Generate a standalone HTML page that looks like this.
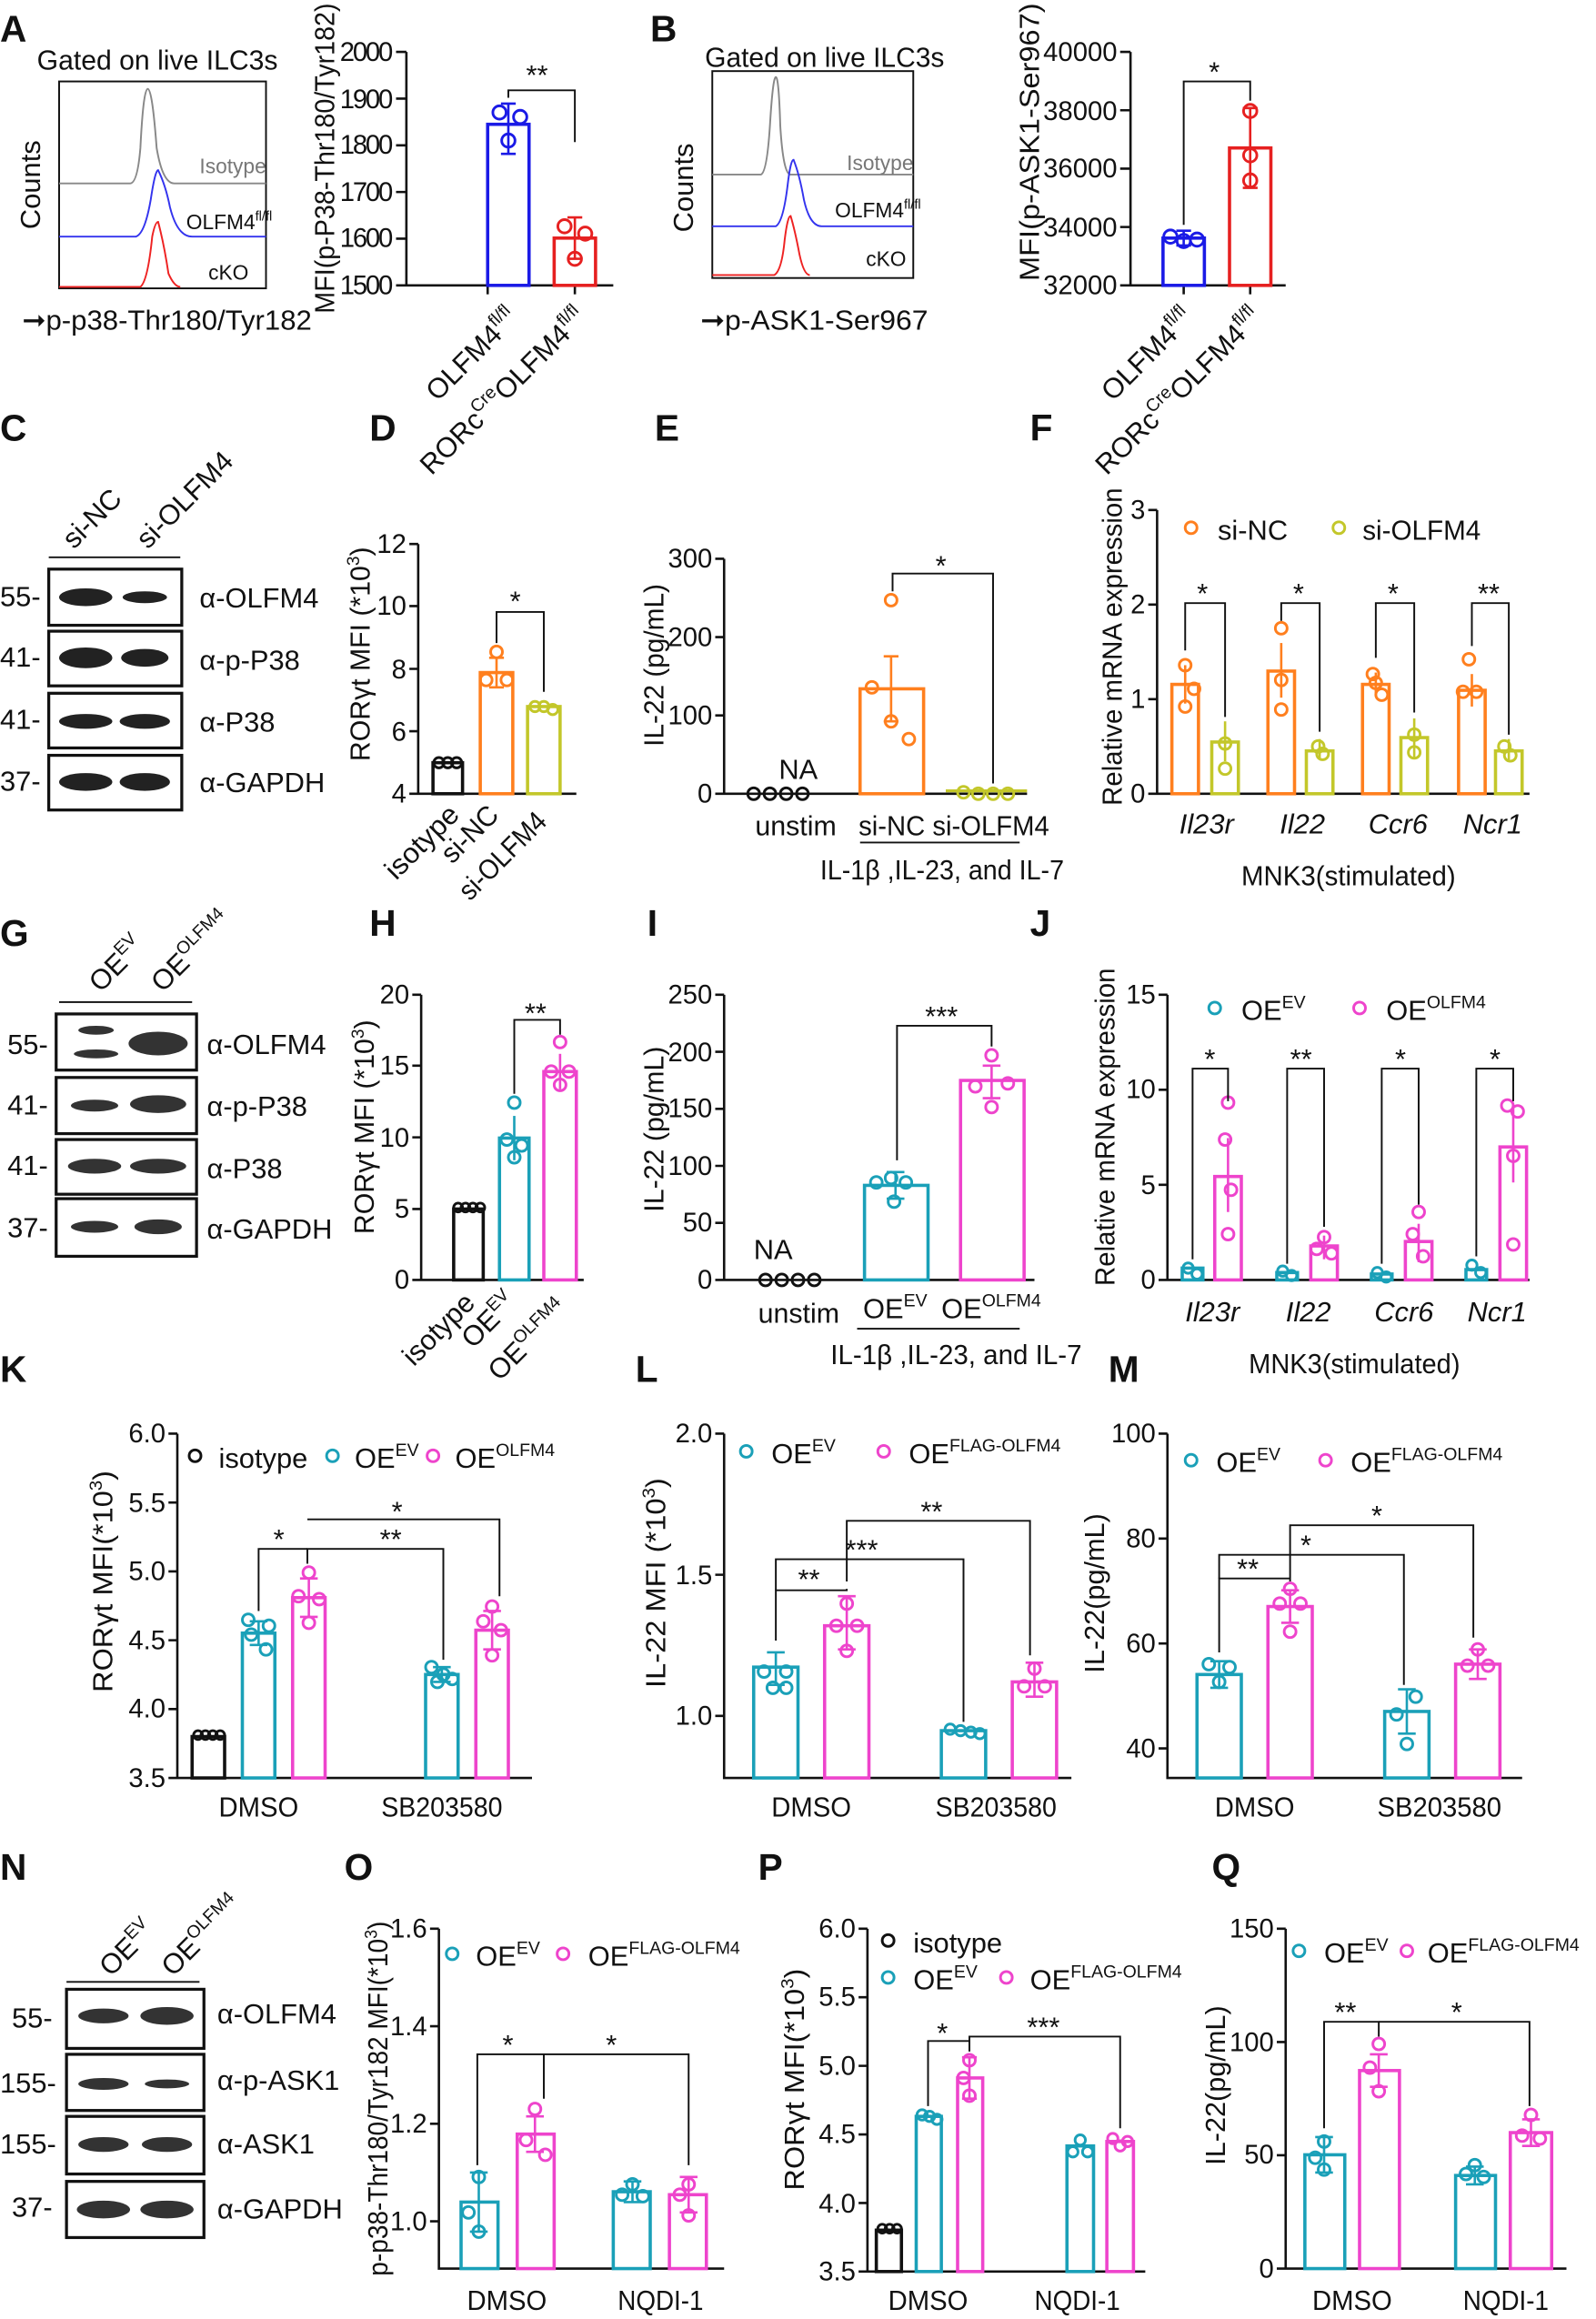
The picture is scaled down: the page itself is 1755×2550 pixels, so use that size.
<!DOCTYPE html>
<html><head><meta charset="utf-8"><style>
html,body{margin:0;padding:0;background:#fff}
svg{display:block}
text{font-family:"Liberation Sans Narrow","Liberation Sans",sans-serif;fill:#111}
.t{font-size:19px}.s{font-size:14px}.L{font-size:25px;font-weight:bold;font-family:"Liberation Sans",sans-serif}
.tk{font-size:18px;text-anchor:end}
.ax{stroke:#111;stroke-width:1.6;fill:none}
.b{fill:none;stroke-width:2.2}
.d{fill:none;stroke-width:1.8}
.k{stroke:#111;stroke-width:1.2;fill:none}
</style></head><body>
<svg width="1755" height="2550" viewBox="0 0 1080 1569" xmlns="http://www.w3.org/2000/svg">
<!-- ===== Panel A ===== -->
<text class="L" x="0" y="28">A</text>
<text class="t" x="25" y="47" textLength="163" lengthAdjust="spacingAndGlyphs">Gated on live ILC3s</text>
<rect x="40" y="55" width="140" height="140" class="k" stroke="#888"/>
<text class="t" transform="translate(27,155) rotate(-90)">Counts</text>
<path d="M40,124 L88,124 Q93,124 95,100 Q97,60 100,60 Q103,60 106,100 Q110,124 118,124 L180,124" stroke="#888" fill="none" stroke-width="1.2"/>
<path d="M40,160 L92,160 Q98,158 102,135 Q105,115 107,115 Q112,125 115,140 Q120,160 130,160 L180,160" stroke="#3333ee" fill="none" stroke-width="1.2"/>
<path d="M40,194 L95,194 Q100,190 103,160 Q105,150 107,150 Q111,165 114,185 Q118,194 122,194" stroke="#ee2222" fill="none" stroke-width="1.2"/>
<text class="s" x="135" y="117" style="fill:#777">Isotype</text>
<text class="s" x="126" y="155">OLFM4<tspan font-size="9" dy="-6">fl/fl</tspan></text>
<text class="s" x="141" y="189">cKO</text>
<text class="t" x="15" y="223" textLength="196" lengthAdjust="spacingAndGlyphs">➞p-p38-Thr180/Tyr182</text>

<path class="ax" d="M275,35 V193 H415 M268,35H275 M268,66.6H275 M268,98.2H275 M268,129.8H275 M268,161.4H275 M268,193H275 M330,193v6 M389,193v6"/>
<g lengthAdjust="spacingAndGlyphs">
<text class="tk" x="266" y="41" textLength="36">2000</text><text class="tk" x="266" y="73" textLength="36">1900</text><text class="tk" x="266" y="104" textLength="36">1800</text><text class="tk" x="266" y="136" textLength="36">1700</text><text class="tk" x="266" y="167" textLength="36">1600</text><text class="tk" x="266" y="199" textLength="36">1500</text></g>
<text class="t" transform="translate(226,212) rotate(-90)" textLength="210" lengthAdjust="spacingAndGlyphs">MFI(p-P38-Thr180/Tyr182)</text>
<rect x="330" y="84" width="28" height="109" class="b" stroke="#1a1ae6"/>
<path d="M344,70V104M339,70h10M339,104h10" stroke="#1a1ae6" stroke-width="1.6"/>
<circle cx="338" cy="76" r="4.5" class="d" stroke="#1a1ae6"/><circle cx="352" cy="79" r="4.5" class="d" stroke="#1a1ae6"/><circle cx="344" cy="95" r="4.5" class="d" stroke="#1a1ae6"/>
<rect x="375" y="161" width="28" height="32" class="b" stroke="#e62020"/>
<path d="M389,147V175M384,147h10M384,175h10" stroke="#e62020" stroke-width="1.6"/>
<circle cx="382" cy="153" r="4.5" class="d" stroke="#e62020"/><circle cx="396" cy="158" r="4.5" class="d" stroke="#e62020"/><circle cx="389" cy="175" r="4.5" class="d" stroke="#e62020"/>
<path class="k" d="M344,66V61H389V96"/><text class="t" x="356" y="57">**</text>
<text class="t" transform="translate(296,272) rotate(-45)">OLFM4<tspan font-size="12" dy="-8">fl/fl</tspan></text>
<text class="t" transform="translate(292,322) rotate(-45)">RORc<tspan font-size="12" dy="-8">Cre</tspan><tspan dy="8">OLFM4</tspan><tspan font-size="12" dy="-8">fl/fl</tspan></text>

<!-- ===== Panel B ===== -->
<text class="L" x="440" y="28">B</text>
<text class="t" x="477" y="45" textLength="162" lengthAdjust="spacingAndGlyphs">Gated on live ILC3s</text>
<rect x="482" y="48" width="136" height="140" class="k" stroke="#888"/>
<text class="t" transform="translate(469,157) rotate(-90)">Counts</text>
<path d="M482,118 L515,118 Q519,116 521,85 Q523,52 525,52 Q527,52 528,85 Q530,118 535,118 L618,118" stroke="#888" fill="none" stroke-width="1.2"/>
<path d="M482,153 L525,153 Q530,150 533,125 Q535,108 537,108 Q541,118 544,135 Q548,153 556,153 L618,153" stroke="#3333ee" fill="none" stroke-width="1.2"/>
<path d="M482,186 L524,186 Q529,183 531,162 Q533,146 535,146 Q538,156 541,172 Q544,186 548,186" stroke="#ee2222" fill="none" stroke-width="1.2"/>
<text class="s" x="573" y="115" style="fill:#777">Isotype</text>
<text class="s" x="565" y="147">OLFM4<tspan font-size="9" dy="-6">fl/fl</tspan></text>
<text class="s" x="586" y="180">cKO</text>
<text class="t" x="474" y="223" textLength="154" lengthAdjust="spacingAndGlyphs">➞p-ASK1-Ser967</text>

<path class="ax" d="M765,35 V193 H870 M758,35H765 M758,74.5H765 M758,114H765 M758,153.5H765 M758,193H765 M801,193v6 M846,193v6"/>
<text class="tk" x="756" y="41">40000</text><text class="tk" x="756" y="81">38000</text><text class="tk" x="756" y="120">36000</text><text class="tk" x="756" y="160">34000</text><text class="tk" x="756" y="199">32000</text>
<text class="t" transform="translate(703,190) rotate(-90)" textLength="188" lengthAdjust="spacingAndGlyphs">MFI(p-ASK1-Ser967)</text>
<rect x="787" y="161" width="28" height="32" class="b" stroke="#1a1ae6"/>
<path d="M801,156V166M796,156h10M796,166h10" stroke="#1a1ae6" stroke-width="1.6"/>
<circle cx="792" cy="160" r="4.5" class="d" stroke="#1a1ae6"/><circle cx="801" cy="163" r="4.5" class="d" stroke="#1a1ae6"/><circle cx="810" cy="162" r="4.5" class="d" stroke="#1a1ae6"/>
<rect x="832" y="100" width="28" height="93" class="b" stroke="#e62020"/>
<path d="M846,73V127M841,73h10M841,127h10" stroke="#e62020" stroke-width="1.6"/>
<circle cx="846" cy="75" r="4.5" class="d" stroke="#e62020"/><circle cx="846" cy="105" r="4.5" class="d" stroke="#e62020"/><circle cx="846" cy="122" r="4.5" class="d" stroke="#e62020"/>
<path class="k" d="M801,152V55H846V68"/><text class="t" x="818" y="55">*</text>
<text class="t" transform="translate(753,272) rotate(-45)">OLFM4<tspan font-size="12" dy="-8">fl/fl</tspan></text>
<text class="t" transform="translate(749,322) rotate(-45)">RORc<tspan font-size="12" dy="-8">Cre</tspan><tspan dy="8">OLFM4</tspan><tspan font-size="12" dy="-8">fl/fl</tspan></text>

<!-- ===== Panel C ===== -->
<text class="L" x="0" y="298">C</text>
<text class="t" transform="translate(50,372) rotate(-45)">si-NC</text>
<text class="t" transform="translate(100,372) rotate(-45)">si-OLFM4</text>
<path class="k" d="M33,377H122" stroke-width="2"/>
<g stroke="#111" stroke-width="2" fill="#fff">
<rect x="33" y="385" width="90" height="38"/><rect x="33" y="427" width="90" height="37"/><rect x="33" y="469" width="90" height="37"/><rect x="33" y="511" width="90" height="37"/></g>
<g fill="#222"><ellipse cx="58" cy="404" rx="18" ry="6"/><ellipse cx="98" cy="404" rx="15" ry="4"/><ellipse cx="58" cy="445" rx="18" ry="7"/><ellipse cx="98" cy="445" rx="16" ry="6"/><ellipse cx="58" cy="488" rx="18" ry="5"/><ellipse cx="98" cy="488" rx="17" ry="5"/><ellipse cx="58" cy="529" rx="18" ry="6"/><ellipse cx="98" cy="529" rx="17" ry="6"/></g>
<text class="t" x="0" y="410">55-</text><text class="t" x="0" y="451">41-</text><text class="t" x="0" y="493">41-</text><text class="t" x="0" y="535">37-</text>
<text class="t" x="135" y="411">α-OLFM4</text><text class="t" x="135" y="453">α-p-P38</text><text class="t" x="135" y="495">α-P38</text><text class="t" x="135" y="536">α-GAPDH</text>

<!-- ===== Panel D ===== -->
<text class="L" x="250" y="298">D</text>
<path class="ax" d="M283,368 V537 H390 M277,368H283 M277,410H283 M277,452.5H283 M277,494.7H283 M277,537H283"/>
<text class="tk" x="275" y="374">12</text><text class="tk" x="275" y="416">10</text><text class="tk" x="275" y="459">8</text><text class="tk" x="275" y="501">6</text><text class="tk" x="275" y="543">4</text>
<text class="t" transform="translate(250,515) rotate(-90)" textLength="145" lengthAdjust="spacingAndGlyphs">RORγt MFI (*10<tspan font-size="12" dy="-7">3</tspan><tspan dy="7">)</tspan></text>
<rect x="293" y="516" width="20" height="21" class="b" stroke="#111"/>
<circle cx="297" cy="516" r="3.5" class="d" stroke="#111"/><circle cx="303" cy="516" r="3.5" class="d" stroke="#111"/><circle cx="309" cy="516" r="3.5" class="d" stroke="#111"/>
<rect x="325" y="455" width="22" height="82" class="b" stroke="#ff7f1e"/>
<path d="M336,445V465M331,445h10M331,465h10" stroke="#ff7f1e" stroke-width="1.6"/>
<circle cx="336" cy="441" r="4" class="d" stroke="#ff7f1e"/><circle cx="329" cy="460" r="4" class="d" stroke="#ff7f1e"/><circle cx="343" cy="460" r="4" class="d" stroke="#ff7f1e"/>
<rect x="357" y="478" width="22" height="59" class="b" stroke="#c3c72a"/>
<circle cx="362" cy="478" r="3.5" class="d" stroke="#c3c72a"/><circle cx="368" cy="478" r="3.5" class="d" stroke="#c3c72a"/><circle cx="374" cy="480" r="3.5" class="d" stroke="#c3c72a"/>
<path class="k" d="M336,435V414H368V468"/><text class="t" x="345" y="413">*</text>
<text class="t" transform="translate(268,596) rotate(-45)" textLength="62" lengthAdjust="spacingAndGlyphs">isotype</text>
<text class="t" transform="translate(306,585) rotate(-45)" textLength="46" lengthAdjust="spacingAndGlyphs">si-NC</text>
<text class="t" transform="translate(318,610) rotate(-45)" textLength="75" lengthAdjust="spacingAndGlyphs">si-OLFM4</text>

<!-- ===== Panel E ===== -->
<text class="L" x="443" y="298">E</text>
<path class="ax" d="M490,378 V537 H695 M484,378H490 M484,431H490 M484,484H490 M484,537H490"/>
<text class="tk" x="482" y="384">300</text><text class="tk" x="482" y="437">200</text><text class="tk" x="482" y="490">100</text><text class="tk" x="482" y="543">0</text>
<text class="t" transform="translate(449,505) rotate(-90)" textLength="110" lengthAdjust="spacingAndGlyphs">IL-22 (pg/mL)</text>
<g class="d" stroke="#111"><circle cx="510" cy="537" r="4"/><circle cx="521" cy="537" r="4"/><circle cx="532" cy="537" r="4"/><circle cx="543" cy="537" r="4"/></g>
<text class="t" x="527" y="527">NA</text>
<rect x="582" y="466" width="43" height="71" class="b" stroke="#ff7f1e"/>
<path d="M603,444V488M598,444h10M598,488h10" stroke="#ff7f1e" stroke-width="1.6"/>
<circle cx="603" cy="406" r="4" class="d" stroke="#ff7f1e"/><circle cx="590" cy="465" r="4" class="d" stroke="#ff7f1e"/><circle cx="603" cy="488" r="4" class="d" stroke="#ff7f1e"/><circle cx="615" cy="500" r="4" class="d" stroke="#ff7f1e"/>
<g class="d" stroke="#c3c72a"><circle cx="652" cy="536" r="4"/><circle cx="662" cy="537" r="4"/><circle cx="672" cy="537" r="4"/><circle cx="682" cy="537" r="4"/></g>
<path d="M640,535H695" stroke="#c3c72a" stroke-width="2"/>
<path class="k" d="M604,400V388H672V530"/><text class="t" x="633" y="389">*</text>
<text class="t" x="511" y="565" textLength="55" lengthAdjust="spacingAndGlyphs">unstim</text><text class="t" x="581" y="565" textLength="129" lengthAdjust="spacingAndGlyphs">si-NC si-OLFM4</text>
<path class="k" d="M582,570H690"/>
<text class="t" x="555" y="595" textLength="165" lengthAdjust="spacingAndGlyphs">IL-1β ,IL-23, and IL-7</text>

<!-- ===== Panel F ===== -->
<text class="L" x="697" y="298">F</text>
<path class="ax" d="M783,345 V537 H1035 M777,345H783 M777,409H783 M777,473H783 M777,537H783"/>
<text class="tk" x="775" y="351">3</text><text class="tk" x="775" y="415">2</text><text class="tk" x="775" y="479">1</text><text class="tk" x="775" y="543">0</text>
<text class="t" transform="translate(759,545) rotate(-90)" textLength="215" lengthAdjust="spacingAndGlyphs">Relative mRNA expression</text>
<circle cx="806" cy="357" r="4" class="d" stroke="#ff7f1e"/><text class="t" x="824" y="365">si-NC</text>
<circle cx="906" cy="357" r="4" class="d" stroke="#c3c72a"/><text class="t" x="922" y="365" textLength="80" lengthAdjust="spacingAndGlyphs">si-OLFM4</text>
<g class="b" stroke="#ff7f1e"><rect x="793" y="463" width="18" height="74"/><rect x="858" y="454" width="18" height="83"/><rect x="922" y="463" width="18" height="74"/><rect x="987" y="467" width="18" height="70"/></g>
<g class="b" stroke="#c3c72a"><rect x="820" y="502" width="18" height="35"/><rect x="884" y="508" width="18" height="29"/><rect x="948" y="499" width="18" height="38"/><rect x="1012" y="508" width="18" height="29"/></g>
<g stroke="#ff7f1e" stroke-width="1.6"><path d="M802,450V476"/><path d="M867,435V472"/><path d="M931,455V471"/><path d="M996,456V478"/></g>
<g stroke="#c3c72a" stroke-width="1.6"><path d="M829,488V515"/><path d="M893,500V514"/><path d="M957,486V513"/><path d="M1021,500V514"/></g>
<g class="d" stroke="#ff7f1e"><circle cx="802" cy="450" r="4"/><circle cx="802" cy="478" r="4"/><circle cx="808" cy="466" r="4"/><circle cx="867" cy="425" r="4"/><circle cx="867" cy="480" r="4"/><circle cx="867" cy="460" r="4"/><circle cx="929" cy="456" r="4"/><circle cx="935" cy="470" r="4"/><circle cx="931" cy="462" r="4"/><circle cx="994" cy="446" r="4"/><circle cx="990" cy="468" r="4"/><circle cx="999" cy="468" r="4"/></g>
<g class="d" stroke="#c3c72a"><circle cx="829" cy="503" r="4"/><circle cx="829" cy="520" r="4"/><circle cx="892" cy="505" r="4"/><circle cx="895" cy="510" r="4"/><circle cx="957" cy="497" r="4"/><circle cx="957" cy="509" r="4"/><circle cx="1018" cy="505" r="4"/><circle cx="1022" cy="511" r="4"/></g>
<g class="k"><path d="M802,440V408H829V485"/><path d="M867,420V408H893V495"/><path d="M931,445V408H957V482"/><path d="M996,437V408H1021V497"/></g>
<text class="t" x="810" y="408">*</text><text class="t" x="875" y="408">*</text><text class="t" x="939" y="408">*</text><text class="t" x="1000" y="408">**</text>
<text class="t" font-style="italic" x="798" y="564">Il23r</text><text class="t" font-style="italic" x="866" y="564">Il22</text><text class="t" font-style="italic" x="926" y="564">Ccr6</text><text class="t" font-style="italic" x="990" y="564">Ncr1</text>
<text class="t" x="840" y="599" textLength="145" lengthAdjust="spacingAndGlyphs">MNK3(stimulated)</text>

<!-- ===== Panel G ===== -->
<text class="L" x="0" y="640">G</text>
<text class="t" transform="translate(68,672) rotate(-45)">OE<tspan font-size="12" dy="-8">EV</tspan></text>
<text class="t" transform="translate(110,672) rotate(-45)">OE<tspan font-size="12" dy="-8">OLFM4</tspan></text>
<path class="k" d="M40,678H130" stroke-width="2"/>
<g stroke="#111" stroke-width="2" fill="#fff">
<rect x="38" y="686" width="95" height="38"/><rect x="38" y="729" width="95" height="38"/><rect x="38" y="771" width="95" height="37"/><rect x="38" y="811" width="95" height="39"/></g>
<g fill="#333"><ellipse cx="65" cy="697" rx="12" ry="3"/><ellipse cx="65" cy="713" rx="15" ry="3"/><ellipse cx="107" cy="706" rx="20" ry="8"/><ellipse cx="64" cy="748" rx="16" ry="4"/><ellipse cx="107" cy="747" rx="19" ry="6"/><ellipse cx="64" cy="789" rx="18" ry="5"/><ellipse cx="107" cy="789" rx="19" ry="5"/><ellipse cx="64" cy="830" rx="16" ry="4"/><ellipse cx="107" cy="830" rx="16" ry="5"/></g>
<text class="t" x="5" y="713">55-</text><text class="t" x="5" y="754">41-</text><text class="t" x="5" y="795">41-</text><text class="t" x="5" y="837">37-</text>
<text class="t" x="140" y="713">α-OLFM4</text><text class="t" x="140" y="755">α-p-P38</text><text class="t" x="140" y="797">α-P38</text><text class="t" x="140" y="838">α-GAPDH</text>

<!-- ===== Panel H ===== -->
<text class="L" x="250" y="633">H</text>
<path class="ax" d="M285,673 V866 H395 M279,673H285 M279,721H285 M279,769.5H285 M279,818H285 M279,866H285"/>
<text class="tk" x="277" y="679">20</text><text class="tk" x="277" y="727">15</text><text class="tk" x="277" y="776">10</text><text class="tk" x="277" y="824">5</text><text class="tk" x="277" y="872">0</text>
<text class="t" transform="translate(253,835) rotate(-90)" textLength="145" lengthAdjust="spacingAndGlyphs">RORγt MFI (*10<tspan font-size="12" dy="-7">3</tspan><tspan dy="7">)</tspan></text>
<rect x="307" y="818" width="20" height="48" class="b" stroke="#111"/>
<g class="d" stroke="#111"><circle cx="310" cy="817" r="3"/><circle cx="315" cy="817" r="3"/><circle cx="320" cy="817" r="3"/><circle cx="325" cy="817" r="3"/></g>
<rect x="338" y="770" width="20" height="96" class="b" stroke="#1aa0b8"/>
<path d="M348,755V785" stroke="#1aa0b8" stroke-width="1.6"/>
<g class="d" stroke="#1aa0b8"><circle cx="348" cy="746" r="4"/><circle cx="343" cy="771" r="4"/><circle cx="353" cy="775" r="4"/><circle cx="348" cy="783" r="4"/></g>
<rect x="368" y="725" width="22" height="141" class="b" stroke="#ee44cc"/>
<path d="M379,713V737" stroke="#ee44cc" stroke-width="1.6"/>
<g class="d" stroke="#ee44cc"><circle cx="379" cy="705" r="4"/><circle cx="373" cy="725" r="4"/><circle cx="385" cy="725" r="4"/><circle cx="379" cy="734" r="4"/></g>
<path class="k" d="M348,740V690H379V700"/><text class="t" x="355" y="692">**</text>
<text class="t" transform="translate(280,925) rotate(-45)" textLength="60" lengthAdjust="spacingAndGlyphs">isotype</text>
<text class="t" transform="translate(320,913) rotate(-45)">OE<tspan font-size="12" dy="-8">EV</tspan></text>
<text class="t" transform="translate(338,935) rotate(-45)">OE<tspan font-size="12" dy="-8">OLFM4</tspan></text>

<!-- ===== Panel I ===== -->
<text class="L" x="438" y="633">I</text>
<path class="ax" d="M490,673 V866 H700 M484,673H490 M484,711.6H490 M484,750.2H490 M484,788.8H490 M484,827.4H490 M484,866H490"/>
<text class="tk" x="482" y="679">250</text><text class="tk" x="482" y="718">200</text><text class="tk" x="482" y="756">150</text><text class="tk" x="482" y="795">100</text><text class="tk" x="482" y="833">50</text><text class="tk" x="482" y="872">0</text>
<text class="t" transform="translate(449,820) rotate(-90)" textLength="112" lengthAdjust="spacingAndGlyphs">IL-22 (pg/mL)</text>
<g class="d" stroke="#111"><circle cx="518" cy="866" r="4"/><circle cx="529" cy="866" r="4"/><circle cx="540" cy="866" r="4"/><circle cx="551" cy="866" r="4"/></g>
<text class="t" x="510" y="852">NA</text>
<rect x="585" y="802" width="43" height="64" class="b" stroke="#1aa0b8"/>
<path d="M606,793V811M600,793h12M600,811h12" stroke="#1aa0b8" stroke-width="1.6"/>
<g class="d" stroke="#1aa0b8"><circle cx="593" cy="800" r="4"/><circle cx="603" cy="797" r="4"/><circle cx="613" cy="800" r="4"/><circle cx="605" cy="813" r="4"/></g>
<rect x="650" y="731" width="43" height="135" class="b" stroke="#ee44cc"/>
<path d="M671,721V743M665,721h12M665,743h12" stroke="#ee44cc" stroke-width="1.6"/>
<g class="d" stroke="#ee44cc"><circle cx="671" cy="714" r="4"/><circle cx="660" cy="735" r="4"/><circle cx="682" cy="733" r="4"/><circle cx="671" cy="749" r="4"/></g>
<path class="k" d="M607,785V694H671V708"/><text class="t" x="626" y="694">***</text>
<text class="t" x="513" y="895" textLength="55" lengthAdjust="spacingAndGlyphs">unstim</text>
<text class="t" x="584" y="892">OE<tspan font-size="12" dy="-8">EV</tspan></text>
<text class="t" x="637" y="892">OE<tspan font-size="12" dy="-8">OLFM4</tspan></text>
<path class="k" d="M580,899H690"/>
<text class="t" x="562" y="923" textLength="170" lengthAdjust="spacingAndGlyphs">IL-1β ,IL-23, and IL-7</text>

<!-- ===== Panel J ===== -->
<text class="L" x="697" y="633">J</text>
<path class="ax" d="M790,673 V866 H1035 M784,673H790 M784,737.3H790 M784,801.6H790 M784,866H790"/>
<text class="tk" x="782" y="679">15</text><text class="tk" x="782" y="743">10</text><text class="tk" x="782" y="808">5</text><text class="tk" x="782" y="872">0</text>
<text class="t" transform="translate(754,870) rotate(-90)" textLength="215" lengthAdjust="spacingAndGlyphs">Relative mRNA expression</text>
<circle cx="822" cy="682" r="4" class="d" stroke="#1aa0b8"/><text class="t" x="840" y="690">OE<tspan font-size="12" dy="-8">EV</tspan></text>
<circle cx="920" cy="682" r="4" class="d" stroke="#ee44cc"/><text class="t" x="938" y="690">OE<tspan font-size="12" dy="-8">OLFM4</tspan></text>
<g class="b" stroke="#1aa0b8"><rect x="800" y="858" width="14" height="8"/><rect x="864" y="861" width="14" height="5"/><rect x="928" y="862" width="14" height="4"/><rect x="992" y="859" width="14" height="7"/></g>
<g class="b" stroke="#ee44cc"><rect x="822" y="796" width="18" height="70"/><rect x="887" y="843" width="18" height="23"/><rect x="951" y="840" width="18" height="26"/><rect x="1015" y="776" width="18" height="90"/></g>
<g stroke="#ee44cc" stroke-width="1.6"><path d="M831,770V820"/><path d="M896,836V852"/><path d="M960,828V854"/><path d="M1024,750V800"/></g>
<g class="d" stroke="#1aa0b8"><circle cx="804" cy="858" r="3.5"/><circle cx="810" cy="862" r="3.5"/><circle cx="868" cy="860" r="3.5"/><circle cx="874" cy="863" r="3.5"/><circle cx="932" cy="861" r="3.5"/><circle cx="938" cy="864" r="3.5"/><circle cx="996" cy="856" r="3.5"/><circle cx="1002" cy="861" r="3.5"/></g>
<g class="d" stroke="#ee44cc"><circle cx="831" cy="746" r="4"/><circle cx="829" cy="771" r="4"/><circle cx="833" cy="805" r="4"/><circle cx="831" cy="835" r="4"/><circle cx="896" cy="837" r="4"/><circle cx="891" cy="845" r="4"/><circle cx="901" cy="848" r="4"/><circle cx="960" cy="820" r="4"/><circle cx="956" cy="835" r="4"/><circle cx="963" cy="850" r="4"/><circle cx="1020" cy="748" r="4"/><circle cx="1027" cy="752" r="4"/><circle cx="1024" cy="782" r="4"/><circle cx="1024" cy="842" r="4"/></g>
<g class="k"><path d="M807,852V723H831V745"/><path d="M871,855V723H896V830"/><path d="M935,855V723H960V815"/><path d="M999,850V723H1024V745"/></g>
<text class="t" x="815" y="723">*</text><text class="t" x="873" y="723">**</text><text class="t" x="944" y="723">*</text><text class="t" x="1008" y="723">*</text>
<text class="t" font-style="italic" x="802" y="894">Il23r</text><text class="t" font-style="italic" x="870" y="894">Il22</text><text class="t" font-style="italic" x="930" y="894">Ccr6</text><text class="t" font-style="italic" x="993" y="894">Ncr1</text>
<text class="t" x="845" y="929" textLength="143" lengthAdjust="spacingAndGlyphs">MNK3(stimulated)</text>

<!-- ===== Panel K ===== -->
<text class="L" x="0" y="935">K</text>
<path class="ax" d="M120,970 V1203 H360 M114,970H120 M114,1016.6H120 M114,1063.2H120 M114,1109.8H120 M114,1156.4H120 M114,1203H120"/>
<text class="tk" x="112" y="976">6.0</text><text class="tk" x="112" y="1023">5.5</text><text class="tk" x="112" y="1069">5.0</text><text class="tk" x="112" y="1116">4.5</text><text class="tk" x="112" y="1162">4.0</text><text class="tk" x="112" y="1209">3.5</text>
<text class="t" transform="translate(76,1145) rotate(-90)" textLength="150" lengthAdjust="spacingAndGlyphs">RORγt MFI(*10<tspan font-size="12" dy="-7">3</tspan><tspan dy="7">)</tspan></text>
<circle cx="132" cy="985" r="4" class="d" stroke="#111"/><text class="t" x="148" y="993">isotype</text>
<circle cx="225" cy="985" r="4" class="d" stroke="#1aa0b8"/><text class="t" x="240" y="993">OE<tspan font-size="12" dy="-8">EV</tspan></text>
<circle cx="293" cy="985" r="4" class="d" stroke="#ee44cc"/><text class="t" x="308" y="993">OE<tspan font-size="12" dy="-8">OLFM4</tspan></text>
<rect x="130" y="1175" width="22" height="28" class="b" stroke="#111"/>
<g class="d" stroke="#111"><circle cx="134" cy="1174" r="3"/><circle cx="139" cy="1174" r="3"/><circle cx="144" cy="1174" r="3"/><circle cx="149" cy="1174" r="3"/></g>
<g class="b" stroke="#1aa0b8"><rect x="164" y="1105" width="22" height="98"/><rect x="288" y="1133" width="22" height="70"/></g>
<g class="b" stroke="#ee44cc"><rect x="198" y="1081" width="22" height="122"/><rect x="322" y="1103" width="22" height="100"/></g>
<g stroke="#1aa0b8" stroke-width="1.6"><path d="M175,1097V1113M169,1097h12M169,1113h12"/><path d="M299,1128V1138M293,1128h12M293,1138h12"/></g>
<g stroke="#ee44cc" stroke-width="1.6"><path d="M209,1068V1094M203,1068h12M203,1094h12"/><path d="M333,1090V1116M327,1090h12M327,1116h12"/></g>
<g class="d" stroke="#1aa0b8"><circle cx="168" cy="1096" r="4"/><circle cx="182" cy="1100" r="4"/><circle cx="170" cy="1106" r="4"/><circle cx="180" cy="1116" r="4"/><circle cx="292" cy="1128" r="4"/><circle cx="300" cy="1133" r="4"/><circle cx="306" cy="1136" r="4"/><circle cx="296" cy="1138" r="4"/></g>
<g class="d" stroke="#ee44cc"><circle cx="209" cy="1064" r="4"/><circle cx="202" cy="1080" r="4"/><circle cx="216" cy="1082" r="4"/><circle cx="209" cy="1098" r="4"/><circle cx="333" cy="1087" r="4"/><circle cx="327" cy="1097" r="4"/><circle cx="339" cy="1103" r="4"/><circle cx="333" cy="1120" r="4"/></g>
<g class="k"><path d="M175,1090V1048H208"/><path d="M208,1058V1048H300V1123"/><path d="M208,1028H338V1080"/></g>
<text class="t" x="185" y="1048">*</text><text class="t" x="257" y="1048">**</text><text class="t" x="265" y="1029">*</text>
<text class="t" x="148" y="1229" textLength="54" lengthAdjust="spacingAndGlyphs">DMSO</text><text class="t" x="258" y="1229" textLength="82" lengthAdjust="spacingAndGlyphs">SB203580</text>

<!-- ===== Panel L ===== -->
<text class="L" x="430" y="935">L</text>
<path class="ax" d="M490,970 V1203 H725 M484,970H490 M484,1065.5H490 M484,1161H490"/>
<text class="tk" x="482" y="976">2.0</text><text class="tk" x="482" y="1072">1.5</text><text class="tk" x="482" y="1167">1.0</text>
<text class="t" transform="translate(450,1142) rotate(-90)" textLength="142" lengthAdjust="spacingAndGlyphs">IL-22 MFI  (*10<tspan font-size="12" dy="-7">3</tspan><tspan dy="7">)</tspan></text>
<circle cx="505" cy="982" r="4" class="d" stroke="#1aa0b8"/><text class="t" x="522" y="990">OE<tspan font-size="12" dy="-8">EV</tspan></text>
<circle cx="598" cy="982" r="4" class="d" stroke="#ee44cc"/><text class="t" x="615" y="990">OE<tspan font-size="12" dy="-8">FLAG-OLFM4</tspan></text>
<g class="b" stroke="#1aa0b8"><rect x="510" y="1128" width="30" height="75"/><rect x="637" y="1171" width="30" height="32"/></g>
<g class="b" stroke="#ee44cc"><rect x="558" y="1100" width="30" height="103"/><rect x="685" y="1138" width="30" height="65"/></g>
<g stroke="#1aa0b8" stroke-width="1.6"><path d="M525,1118V1140M519,1118h12M519,1140h12"/></g>
<g stroke="#ee44cc" stroke-width="1.6"><path d="M573,1080V1116M567,1080h12M567,1116h12"/><path d="M700,1125V1148M694,1125h12M694,1148h12"/></g>
<g class="d" stroke="#1aa0b8"><circle cx="517" cy="1131" r="4"/><circle cx="532" cy="1131" r="4"/><circle cx="523" cy="1142" r="4"/><circle cx="532" cy="1142" r="4"/><circle cx="643" cy="1170" r="3.5"/><circle cx="650" cy="1171" r="3.5"/><circle cx="657" cy="1172" r="3.5"/><circle cx="663" cy="1173" r="3.5"/></g>
<g class="d" stroke="#ee44cc"><circle cx="573" cy="1085" r="4"/><circle cx="566" cy="1100" r="4"/><circle cx="580" cy="1100" r="4"/><circle cx="573" cy="1117" r="4"/><circle cx="700" cy="1129" r="4"/><circle cx="693" cy="1141" r="4"/><circle cx="707" cy="1141" r="4"/></g>
<g class="k"><path d="M525,1110V1076H573V1075"/><path d="M525,1076V1055H652V1165"/><path d="M573,1070V1029H697V1120"/></g>
<text class="t" x="540" y="1075">**</text><text class="t" x="572" y="1055">***</text><text class="t" x="623" y="1029">**</text>
<text class="t" x="522" y="1229" textLength="54" lengthAdjust="spacingAndGlyphs">DMSO</text><text class="t" x="633" y="1229" textLength="82" lengthAdjust="spacingAndGlyphs">SB203580</text>

<!-- ===== Panel M ===== -->
<text class="L" x="750" y="935">M</text>
<path class="ax" d="M790,970 V1203 H1030 M784,970H790 M784,1041H790 M784,1112H790 M784,1183H790"/>
<text class="tk" x="782" y="976">100</text><text class="tk" x="782" y="1047">80</text><text class="tk" x="782" y="1118">60</text><text class="tk" x="782" y="1189">40</text>
<text class="t" transform="translate(747,1132) rotate(-90)" textLength="108" lengthAdjust="spacingAndGlyphs">IL-22(pg/mL)</text>
<circle cx="806" cy="988" r="4" class="d" stroke="#1aa0b8"/><text class="t" x="823" y="996">OE<tspan font-size="12" dy="-8">EV</tspan></text>
<circle cx="897" cy="988" r="4" class="d" stroke="#ee44cc"/><text class="t" x="914" y="996">OE<tspan font-size="12" dy="-8">FLAG-OLFM4</tspan></text>
<g class="b" stroke="#1aa0b8"><rect x="810" y="1133" width="30" height="70"/><rect x="937" y="1158" width="30" height="45"/></g>
<g class="b" stroke="#ee44cc"><rect x="858" y="1087" width="30" height="116"/><rect x="985" y="1126" width="30" height="77"/></g>
<g stroke="#1aa0b8" stroke-width="1.6"><path d="M825,1124V1142M819,1124h12M819,1142h12"/><path d="M952,1143V1173M946,1143h12M946,1173h12"/></g>
<g stroke="#ee44cc" stroke-width="1.6"><path d="M873,1076V1098M867,1076h12M867,1098h12"/><path d="M1000,1116V1136M994,1116h12M994,1136h12"/></g>
<g class="d" stroke="#1aa0b8"><circle cx="818" cy="1126" r="4"/><circle cx="832" cy="1128" r="4"/><circle cx="825" cy="1138" r="4"/><circle cx="945" cy="1160" r="4"/><circle cx="958" cy="1148" r="4"/><circle cx="952" cy="1180" r="4"/></g>
<g class="d" stroke="#ee44cc"><circle cx="873" cy="1075" r="4"/><circle cx="866" cy="1085" r="4"/><circle cx="880" cy="1085" r="4"/><circle cx="873" cy="1104" r="4"/><circle cx="1000" cy="1116" r="4"/><circle cx="993" cy="1127" r="4"/><circle cx="1007" cy="1127" r="4"/></g>
<g class="k"><path d="M825,1118V1068H873"/><path d="M825,1068V1052H950V1140"/><path d="M873,1070V1032H997V1108"/></g>
<text class="t" x="837" y="1068">**</text><text class="t" x="880" y="1052">*</text><text class="t" x="928" y="1032">*</text>
<text class="t" x="822" y="1229" textLength="54" lengthAdjust="spacingAndGlyphs">DMSO</text><text class="t" x="932" y="1229" textLength="84" lengthAdjust="spacingAndGlyphs">SB203580</text>

<!-- ===== Panel N ===== -->
<text class="L" x="0" y="1272">N</text>
<text class="t" transform="translate(75,1338) rotate(-45)">OE<tspan font-size="12" dy="-8">EV</tspan></text>
<text class="t" transform="translate(117,1338) rotate(-45)">OE<tspan font-size="12" dy="-8">OLFM4</tspan></text>
<path class="k" d="M45,1341H135" stroke-width="2"/>
<g stroke="#111" stroke-width="2" fill="#fff">
<rect x="45" y="1346" width="93" height="40"/><rect x="45" y="1390" width="93" height="38"/><rect x="45" y="1432" width="93" height="39"/><rect x="45" y="1476" width="93" height="38"/></g>
<g fill="#333"><ellipse cx="70" cy="1364" rx="17" ry="5"/><ellipse cx="113" cy="1364" rx="18" ry="6"/><ellipse cx="70" cy="1410" rx="17" ry="4"/><ellipse cx="113" cy="1410" rx="15" ry="3"/><ellipse cx="70" cy="1451" rx="17" ry="5"/><ellipse cx="113" cy="1451" rx="17" ry="5"/><ellipse cx="70" cy="1495" rx="18" ry="6"/><ellipse cx="113" cy="1495" rx="18" ry="6"/></g>
<text class="t" x="8" y="1372">55-</text><text class="t" x="0" y="1416">155-</text><text class="t" x="0" y="1457">155-</text><text class="t" x="8" y="1500">37-</text>
<text class="t" x="147" y="1369">α-OLFM4</text><text class="t" x="147" y="1414">α-p-ASK1</text><text class="t" x="147" y="1457">α-ASK1</text><text class="t" x="147" y="1501">α-GAPDH</text>

<!-- ===== Panel O ===== -->
<text class="L" x="233" y="1272">O</text>
<path class="ax" d="M297,1305 V1535 H490 M291,1305H297 M291,1371H297 M291,1437H297 M291,1503H297"/>
<text class="tk" x="289" y="1311">1.6</text><text class="tk" x="289" y="1377">1.4</text><text class="tk" x="289" y="1443">1.2</text><text class="tk" x="289" y="1509">1.0</text>
<text class="t" transform="translate(262,1540) rotate(-90)" textLength="240" lengthAdjust="spacingAndGlyphs">p-p38-Thr180/Tyr182 MFI(*10<tspan font-size="12" dy="-7">3</tspan><tspan dy="7">)</tspan></text>
<circle cx="306" cy="1322" r="4" class="d" stroke="#1aa0b8"/><text class="t" x="322" y="1330">OE<tspan font-size="12" dy="-8">EV</tspan></text>
<circle cx="381" cy="1322" r="4" class="d" stroke="#ee44cc"/><text class="t" x="398" y="1330">OE<tspan font-size="12" dy="-8">FLAG-OLFM4</tspan></text>
<g class="b" stroke="#1aa0b8"><rect x="312" y="1490" width="25" height="45"/><rect x="415" y="1483" width="25" height="52"/></g>
<g class="b" stroke="#ee44cc"><rect x="350" y="1444" width="25" height="91"/><rect x="453" y="1485" width="25" height="50"/></g>
<g stroke="#1aa0b8" stroke-width="1.6"><path d="M324,1470V1510M318,1470h12M318,1510h12"/><path d="M428,1476V1490M422,1476h12M422,1490h12"/></g>
<g stroke="#ee44cc" stroke-width="1.6"><path d="M362,1432V1456M356,1432h12M356,1456h12"/><path d="M466,1473V1497M460,1473h12M460,1497h12"/></g>
<g class="d" stroke="#1aa0b8"><circle cx="324" cy="1473" r="4"/><circle cx="317" cy="1497" r="4"/><circle cx="324" cy="1510" r="4"/><circle cx="421" cy="1485" r="4"/><circle cx="428" cy="1478" r="4"/><circle cx="435" cy="1486" r="4"/></g>
<g class="d" stroke="#ee44cc"><circle cx="362" cy="1427" r="4"/><circle cx="356" cy="1448" r="4"/><circle cx="369" cy="1458" r="4"/><circle cx="466" cy="1478" r="4"/><circle cx="460" cy="1485" r="4"/><circle cx="466" cy="1499" r="4"/></g>
<g class="k"><path d="M323,1465V1390H368V1420"/><path d="M368,1390H466V1465"/></g>
<text class="t" x="340" y="1390">*</text><text class="t" x="410" y="1390">*</text>
<text class="t" x="316" y="1563" textLength="54" lengthAdjust="spacingAndGlyphs">DMSO</text><text class="t" x="418" y="1563" textLength="58" lengthAdjust="spacingAndGlyphs">NQDI-1</text>

<!-- ===== Panel P ===== -->
<text class="L" x="513" y="1272">P</text>
<path class="ax" d="M587,1305 V1537 H775 M581,1305H587 M581,1351.4H587 M581,1397.8H587 M581,1444.2H587 M581,1490.6H587 M581,1537H587"/>
<text class="tk" x="579" y="1311">6.0</text><text class="tk" x="579" y="1357">5.5</text><text class="tk" x="579" y="1404">5.0</text><text class="tk" x="579" y="1450">4.5</text><text class="tk" x="579" y="1497">4.0</text><text class="tk" x="579" y="1543">3.5</text>
<text class="t" transform="translate(544,1482) rotate(-90)" textLength="150" lengthAdjust="spacingAndGlyphs">RORγt MFI(*10<tspan font-size="12" dy="-7">3</tspan><tspan dy="7">)</tspan></text>
<circle cx="601" cy="1313" r="4" class="d" stroke="#111"/><text class="t" x="618" y="1321">isotype</text>
<circle cx="601" cy="1338" r="4" class="d" stroke="#1aa0b8"/><text class="t" x="618" y="1346">OE<tspan font-size="12" dy="-8">EV</tspan></text>
<circle cx="681" cy="1338" r="4" class="d" stroke="#ee44cc"/><text class="t" x="697" y="1346">OE<tspan font-size="12" dy="-8">FLAG-OLFM4</tspan></text>
<rect x="593" y="1509" width="17" height="28" class="b" stroke="#111"/>
<g class="d" stroke="#111"><circle cx="597" cy="1508" r="3"/><circle cx="602" cy="1508" r="3"/><circle cx="607" cy="1508" r="3"/></g>
<g class="b" stroke="#1aa0b8"><rect x="620" y="1432" width="17" height="105"/><rect x="722" y="1452" width="18" height="85"/></g>
<g class="b" stroke="#ee44cc"><rect x="648" y="1406" width="17" height="131"/><rect x="749" y="1449" width="18" height="88"/></g>
<g stroke="#ee44cc" stroke-width="1.6"><path d="M656,1392V1420M651,1392h10M651,1420h10"/></g>
<g class="d" stroke="#1aa0b8"><circle cx="624" cy="1431" r="3.5"/><circle cx="629" cy="1432" r="3.5"/><circle cx="634" cy="1434" r="3.5"/><circle cx="726" cy="1456" r="3.5"/><circle cx="731" cy="1448" r="3.5"/><circle cx="736" cy="1456" r="3.5"/></g>
<g class="d" stroke="#ee44cc"><circle cx="656" cy="1394" r="4"/><circle cx="652" cy="1406" r="4"/><circle cx="656" cy="1418" r="4"/><circle cx="753" cy="1447" r="3.5"/><circle cx="758" cy="1452" r="3.5"/><circle cx="763" cy="1449" r="3.5"/></g>
<g class="k"><path d="M628,1425V1381H656V1388"/><path d="M656,1388V1378H758V1440"/></g>
<text class="t" x="634" y="1382">*</text><text class="t" x="695" y="1378">***</text>
<text class="t" x="601" y="1563" textLength="54" lengthAdjust="spacingAndGlyphs">DMSO</text><text class="t" x="700" y="1563" textLength="58" lengthAdjust="spacingAndGlyphs">NQDI-1</text>

<!-- ===== Panel Q ===== -->
<text class="L" x="820" y="1272">Q</text>
<path class="ax" d="M870,1305 V1535 H1060 M864,1305H870 M864,1381.7H870 M864,1458.3H870 M864,1535H870"/>
<text class="tk" x="862" y="1311">150</text><text class="tk" x="862" y="1388">100</text><text class="tk" x="862" y="1464">50</text><text class="tk" x="862" y="1541">0</text>
<text class="t" transform="translate(829,1465) rotate(-90)" textLength="108" lengthAdjust="spacingAndGlyphs">IL-22(pg/mL)</text>
<circle cx="879" cy="1320" r="4" class="d" stroke="#1aa0b8"/><text class="t" x="896" y="1328">OE<tspan font-size="12" dy="-8">EV</tspan></text>
<circle cx="952" cy="1320" r="4" class="d" stroke="#ee44cc"/><text class="t" x="966" y="1328">OE<tspan font-size="12" dy="-8">FLAG-OLFM4</tspan></text>
<g class="b" stroke="#1aa0b8"><rect x="883" y="1458" width="27" height="77"/><rect x="985" y="1472" width="27" height="63"/></g>
<g class="b" stroke="#ee44cc"><rect x="920" y="1401" width="27" height="134"/><rect x="1022" y="1443" width="28" height="92"/></g>
<g stroke="#1aa0b8" stroke-width="1.6"><path d="M896,1446V1470M890,1446h12M890,1470h12"/><path d="M998,1466V1478M992,1466h12M992,1478h12"/></g>
<g stroke="#ee44cc" stroke-width="1.6"><path d="M933,1390V1412M927,1390h12M927,1412h12"/><path d="M1036,1434V1452M1030,1434h12M1030,1452h12"/></g>
<g class="d" stroke="#1aa0b8"><circle cx="896" cy="1449" r="4"/><circle cx="890" cy="1460" r="4"/><circle cx="896" cy="1468" r="4"/><circle cx="992" cy="1471" r="4"/><circle cx="998" cy="1465" r="4"/><circle cx="1004" cy="1473" r="4"/></g>
<g class="d" stroke="#ee44cc"><circle cx="933" cy="1383" r="4"/><circle cx="927" cy="1399" r="4"/><circle cx="933" cy="1415" r="4"/><circle cx="1036" cy="1431" r="4"/><circle cx="1030" cy="1445" r="4"/><circle cx="1042" cy="1447" r="4"/></g>
<g class="k"><path d="M896,1440V1368H933V1378"/><path d="M933,1368H1035V1425"/></g>
<text class="t" x="903" y="1368">**</text><text class="t" x="982" y="1368">*</text>
<text class="t" x="888" y="1563" textLength="54" lengthAdjust="spacingAndGlyphs">DMSO</text><text class="t" x="990" y="1563" textLength="58" lengthAdjust="spacingAndGlyphs">NQDI-1</text>
</svg>
</body></html>
